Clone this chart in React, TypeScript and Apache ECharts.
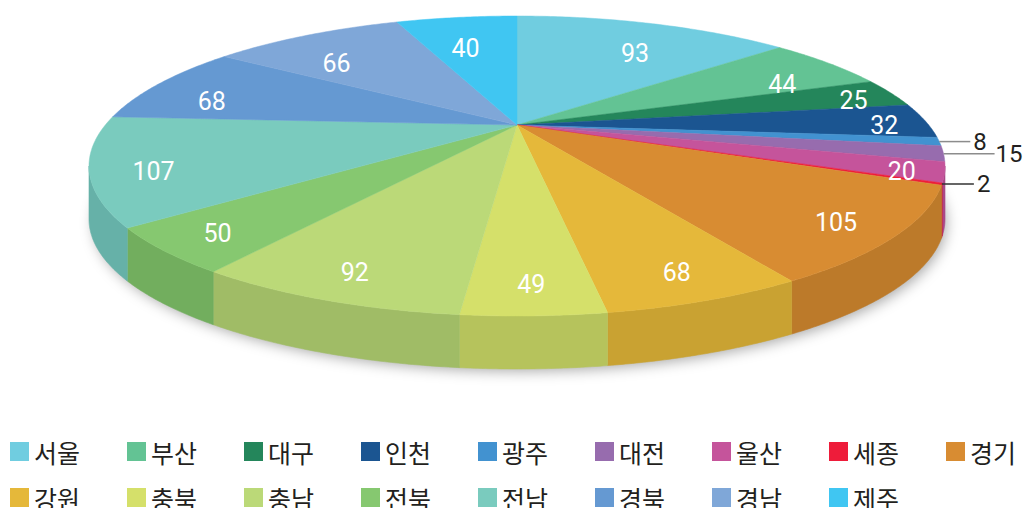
import { useEffect, useRef } from "react";
import * as echarts from "echarts";

const regions = ["서울", "부산", "대구", "인천", "광주", "대전", "울산", "세종", "경기", "강원", "충북", "충남", "전북", "전남", "경북", "경남", "제주"];
const values = [93, 44, 25, 32, 8, 15, 20, 2, 105, 68, 49, 92, 50, 107, 68, 66, 40];
const topColors = ["#70cde0", "#63c394", "#24865b", "#1b5591", "#4292d0", "#976cae", "#c5549b", "#ee1c3a", "#d88c32", "#e5b83a", "#d5e06a", "#bbd978", "#86c870", "#7acbbe", "#6599d2", "#7fa7d8", "#40c6f2"];
const sideColors = ["#60b1c1", "#55a880", "#1e744e", "#174a7d", "#387eb3", "#825d96", "#aa4886", "#cc1832", "#bc7a2a", "#c9a232", "#b6c35c", "#a0bc66", "#72ae5e", "#66b1a8", "#5784b5", "#6d90ba", "#37abd0"];

// layout of the projected disc
const CX = 517;
const CY = 166;
const RX = 428;
const RY = 150;
const DEPTH = 53;
const APEX_Y = 125;
const LABEL_RX = 0.85;
const LABEL_RY = 0.79;
const LABEL_R_SMALL = 0.9;

const outside: Record<string, { len: number; gap: number; color: string }> = {
  광주: { len: 31, gap: 3, color: "#8c8c8c" },
  대전: { len: 51, gap: 1, color: "#8c8c8c" },
  세종: { len: 32, gap: 3, color: "#333333" },
};

export default function App() {
  const ref = useRef<HTMLDivElement>(null);
  useEffect(() => {
    if (!ref.current) return;
    const chart = echarts.init(ref.current, null, { renderer: "svg" });
    const total = values.reduce((a, b) => a + b, 0);
    const cum: number[] = [];
    let acc = 0;
    values.forEach((v) => {
      cum.push(acc);
      acc += v;
    });
    const pt = (a: number, dy = 0) => [CX + RX * Math.sin(a), CY - RY * Math.cos(a) + dy];
    const arcPts = (s: number, e: number, dy = 0) => {
      const steps = Math.max(2, Math.ceil(((e - s) * 180) / Math.PI) * 2);
      const out: number[][] = [];
      for (let k = 0; k <= steps; k++) out.push(pt(s + ((e - s) * k) / steps, dy));
      return out;
    };
    const legendCommon = {
      left: 10,
      width: 1013,
      padding: 0,
      itemWidth: 19,
      itemHeight: 19,
      itemGap: 47,
      icon: "rect",
      selectedMode: false,
      textStyle: { fontFamily: "Noto Sans CJK KR", fontSize: 25, color: "#231f20", lineHeight: 20, width: 46, overflow: "none" },
    };
    chart.setOption({
      animation: false,
      graphic: [
        {
          type: "ellipse",
          z: 0,
          shape: { cx: CX, cy: CY + DEPTH, rx: RX - 2, ry: RY - 2 },
          style: { fill: "#ffffff", shadowBlur: 14, shadowColor: "rgba(0,0,0,0.35)", shadowOffsetY: 4, shadowOffsetX: 3 },
        },
      ],
      legend: [
        { ...legendCommon, data: regions.slice(0, 9), top: 439 },
        { ...legendCommon, data: regions.slice(9), top: 485 },
      ],
      series: [
        {
          type: "pie",
          radius: [0, 0],
          center: [-200, -200],
          silent: true,
          label: { show: false },
          data: regions.map((n, i) => ({ name: n, value: values[i], itemStyle: { color: topColors[i] } })),
        },
        {
          type: "custom",
          coordinateSystem: "none",
          z: 5,
          data: regions.map((n, i) => ({ name: n, value: values[i] })),
          renderItem: (params: any, api: any) => {
            const i = params.dataIndex;
            const v = api.value(0) as number;
            const s = (cum[i] / total) * Math.PI * 2;
            const e = ((cum[i] + v) / total) * Math.PI * 2;
            const children: any[] = [];
            const ss = Math.max(s, Math.PI / 2);
            const se = Math.min(e, (Math.PI * 3) / 2);
            if (se > ss) {
              const topArc = arcPts(ss, se);
              const botArc = arcPts(ss, se, DEPTH).reverse();
              children.push({
                type: "polygon",
                z2: 1,
                shape: { points: [...topArc, ...botArc] },
                style: { fill: sideColors[i], stroke: sideColors[i], lineWidth: 0.6 },
              });
            }
            children.push({
              type: "polygon",
              z2: 2,
              shape: { points: [[CX, APEX_Y], ...arcPts(s, e)] },
              style: { fill: topColors[i], stroke: topColors[i], lineWidth: 0.5 },
            });
            const mid = (s + e) / 2;
            const name = regions[i];
            const o = outside[name];
            if (o) {
              const [rx, ry] = pt(mid);
              children.push({
                type: "line",
                z2: 50,
                shape: { x1: rx, y1: ry, x2: rx + o.len, y2: ry },
                style: { stroke: o.color, lineWidth: 1.5 },
              });
              children.push({
                type: "text",
                z2: 60,
                style: {
                  x: rx + o.len + o.gap,
                  y: ry,
                  text: String(v),
                  fill: "#231f20",
                  font: "24px Roboto",
                  align: "left",
                  verticalAlign: "middle",
                },
              });
            } else {
              const small = v < 35;
              const fx = small ? LABEL_R_SMALL : LABEL_RX;
              const fy = small ? LABEL_R_SMALL : LABEL_RY;
              children.push({
                type: "text",
                z2: 60,
                style: {
                  x: CX + fx * RX * Math.sin(mid),
                  y: CY - fy * RY * Math.cos(mid),
                  text: String(v),
                  fill: "#ffffff",
                  font: "25px Roboto",
                  align: "center",
                  verticalAlign: "middle",
                },
              });
            }
            return { type: "group", children };
          },
        },
      ],
    });
    return () => chart.dispose();
  }, []);
  return <div ref={ref} style={{ position: "absolute", left: 0, top: 0, width: 1023, height: 508 }} />;
}
